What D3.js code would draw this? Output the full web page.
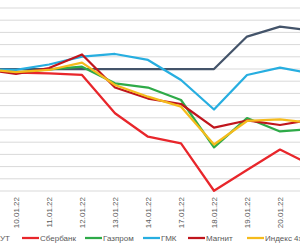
<!DOCTYPE html>
<html><head><meta charset="utf-8">
<script src="https://cdn.jsdelivr.net/npm/d3@7"></script>
<style>html,body{margin:0;padding:0;background:#fff;overflow:hidden}svg{display:block}</style>
</head><body>
<svg id="c" width="300" height="250"></svg>
<script>
const dates = ["06.01.22","10.01.22","11.01.22","12.01.22","13.01.22","14.01.22","17.01.22","18.01.22","19.01.22","20.01.22","21.01.22"];
const tickLabels = ["10.01.22","11.01.22","12.01.22","13.01.22","14.01.22","17.01.22","18.01.22","19.01.22","20.01.22"];
const yTicks = [-10,-9,-8,-7,-6,-5,-4,-3,-2,-1,0,1,2,3,4,5];
const seriesNames = ["Доллар/рубль-УТ","Сбербанк","Газпром","ГМК","Магнит","Индекс 4х бумаг"];
const seriesColors = ["#44546a","#e8262b","#2eaa48","#27aee0","#c0161d","#f5bb1c"];
const usd     = [0,0,0,0,0,0,0,0,2.66,3.47,3.13];
const sber    = [0,-0.29,-0.35,-0.49,-3.63,-5.55,-6.09,-9.98,-8.28,-6.6,-7.95];
const gazprom = [0,-0.29,-0.04,0.19,-1.17,-1.52,-2.54,-6.42,-4.02,-5.12,-4.92];
const gmk     = [0,-0.08,0.37,1.02,1.23,0.74,-0.9,-3.32,-0.49,0.12,-0.41];
const magnit  = [0,-0.41,0.08,1.19,-1.52,-2.42,-2.87,-4.8,-4.22,-4.59,-4.14];
const index4  = [0,-0.25,-0.08,0.52,-1.31,-2.27,-3.09,-6.19,-4.26,-4.12,-4.43];
const seriesValues = [usd,sber,gazprom,gmk,magnit,index4];

const svg = d3.select("#c");
const x = d3.scalePoint().domain(dates).range([-17, 313]);
const y = d3.scaleLinear().domain([-10, 5]).range([191, 8]);

// grid
svg.append("g").selectAll("line").data(yTicks).join("line")
  .attr("x1", 0).attr("x2", 300)
  .attr("y1", d => y(d)).attr("y2", d => y(d))
  .attr("stroke", "#d9d9d9").attr("stroke-width", 1);

// x axis labels (only the dates visible in the frame)
const xAxis = d3.axisBottom(x).tickValues(tickLabels).tickSize(0).tickPadding(0);
const ax = svg.append("g").attr("transform", `translate(0,${y(-10)})`).call(xAxis);
ax.select(".domain").remove();
ax.selectAll("text")
  .attr("transform", "rotate(-90)")
  .attr("x", -6).attr("y", 0).attr("dy", "0.35em")
  .attr("text-anchor", "end")
  .style("font-family", "'Liberation Sans', Arial, sans-serif")
  .style("font-size", "8px").attr("fill", "#595959");

// lines
const line = d3.line().x((d, i) => x(dates[i])).y(d => y(d));
svg.append("g").selectAll("path").data(seriesValues).join("path")
  .attr("d", d => line(d))
  .attr("fill", "none")
  .attr("stroke", (d, i) => seriesColors[i])
  .attr("stroke-width", 2.25)
  .attr("stroke-linejoin", "round");

// legend
const legX = [-44, 22, 85, 143, 188, 247];
const lg = svg.append("g").selectAll("g").data(seriesNames).join("g")
  .attr("transform", (d, i) => `translate(${legX[i]},238)`);
lg.append("line").attr("x1", 0).attr("x2", 17).attr("y1", 0).attr("y2", 0)
  .attr("stroke", (d, i) => seriesColors[i]).attr("stroke-width", 2.25);
lg.append("text").attr("x", 18).attr("dy", "0.35em")
  .style("font-family", "'Liberation Sans', Arial, sans-serif")
  .style("font-size", "8px").attr("fill", "#595959")
  .text(d => d);
// first legend item: right-aligned so that only its tail is visible, as in the reference crop
lg.filter((d, i) => i === 0).select("text").attr("x", 10 + 44).attr("text-anchor", "end");
lg.filter((d, i) => i === 0).select("line").attr("x1", -30).attr("x2", -13);
</script>
</body></html>
